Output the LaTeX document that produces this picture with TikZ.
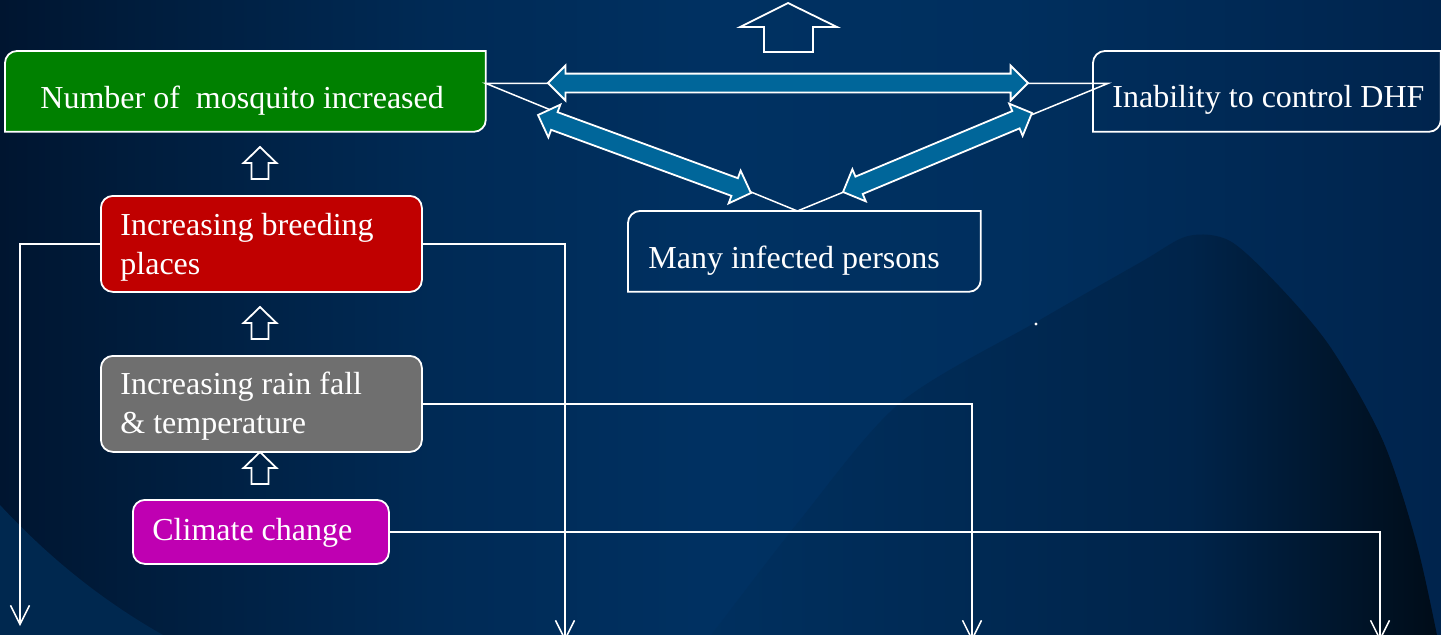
\documentclass[tikz,border=0pt]{standalone}
\usepackage{fontspec}
\setmainfont{Liberation Serif}
\usetikzlibrary{arrows.meta,shapes.arrows}

% palette
\definecolor{bgA}{HTML}{001530}
\definecolor{bgB}{HTML}{001D3D}
\definecolor{bgC}{HTML}{002A55}
\definecolor{bgD}{HTML}{003162}
\definecolor{bgE}{HTML}{002F5E}
\definecolor{bgF}{HTML}{00244D}
\definecolor{hillA}{HTML}{00305F}
\definecolor{hillB}{HTML}{00244A}
\definecolor{hillC}{HTML}{000C18}
\definecolor{lowlight}{HTML}{00284F}
\definecolor{arrowblue}{HTML}{00669A}
\definecolor{mosqgreen}{HTML}{008000}
\definecolor{breedred}{HTML}{C00000}
\definecolor{raingray}{HTML}{6F6F6F}
\definecolor{climmag}{HTML}{BF00B2}

\pgfdeclarehorizontalshading{backdrop}{100bp}{%
  color(0bp)=(bgA); color(25bp)=(bgA); color(30bp)=(bgB); color(40bp)=(bgC);
  color(50bp)=(bgD); color(60bp)=(bgE); color(75bp)=(bgF); color(100bp)=(bgF)}
\pgfdeclarehorizontalshading{hillshade}{100bp}{%
  color(0bp)=(hillA); color(25bp)=(hillA); color(58bp)=(hillB); color(75bp)=(hillC); color(100bp)=(hillC)}

% frame with rounded top-left and bottom-right corners
\newcommand\diagframe[3]{%
  \path[frame,fill=#3] (#1.south west) -- ([yshift=-#2]#1.north west)
    arc[start angle=180, end angle=90, radius=#2]
    -- (#1.north east) -- ([yshift=#2]#1.south east)
    arc[start angle=0, end angle=-90, radius=#2]
    -- cycle;}

\tikzset{
  boxbase/.style={inner sep=0pt, anchor=north west},
  frame/.style={draw=white, line width=0.9pt},
  rbox/.style={boxbase, frame, rounded corners=6pt},
  txt/.style={text=white, inner sep=0pt, anchor=base west, align=left},
  wire/.style={draw=white, line width=0.75pt},
  downarr/.style={wire, -{Straight Barb[length=9.5pt,width=9.5pt]}},
  hollow/.style={draw=white, line width=0.9pt, line join=miter},
  dblarr/.style={double arrow, draw=white, line width=0.9pt, fill=arrowblue,
    double arrow head extend=4pt, text height=4.25pt, text depth=4.25pt,
    inner sep=0pt, sloped},
  uparrow/.pic={\draw[hollow] (0,-16) -- (16.5,0) -- (8.5,0) -- (8.5,16)
    -- (-8.5,16) -- (-8.5,0) -- (-16.5,0) -- cycle;}
}

\begin{document}
\begin{tikzpicture}[x=0.5pt,y=-0.5pt,font=\fontsize{16}{19.2}\selectfont]
\useasboundingbox (0,0) rectangle (1441,634);
\begin{scope}
\clip (0,0) rectangle (1441,634);

% backdrop
\shade[shading=backdrop] (0,0) rectangle (1441,634);
\shade[shading=hillshade]
  plot[smooth] coordinates {(700,650) (800,520) (900,403) (1038,321) (1141,262)
    (1188,236) (1230,241) (1279,286) (1331,348) (1383,441) (1417,545) (1440,650)} -- cycle;
\fill[lowlight] (0,505) .. controls (40,548) and (95,598) .. (172,640) -- (0,640) -- cycle;
\fill[white] (1036,324) circle (0.8pt);

% boxes
\node[boxbase, minimum width=240pt, minimum height=40pt] (mosq) at (5,51) {};
\diagframe{mosq}{6pt}{mosqgreen}
\node[boxbase, minimum width=173.5pt, minimum height=40pt] (dhf) at (1093,51) {};
\diagframe{dhf}{6pt}{none}
\node[boxbase, minimum width=176pt, minimum height=40pt] (many) at (628,211) {};
\diagframe{many}{6pt}{none}
\node[rbox, fill=breedred, minimum width=160.5pt, minimum height=48pt] (breed) at (100,195) {};
\node[rbox, fill=raingray, minimum width=160.5pt, minimum height=48pt] (rain) at (100,355) {};
\node[rbox, fill=climmag, minimum width=128pt, minimum height=32pt] (climate) at (132,499) {};

% texts (multi-line nodes sit on the baseline of their last line)
\node[txt] (mosqtxt) at (40,108) {Number of\ \ mosquito increased};
\node[txt] (dhftxt) at (1112,107) {Inability to control DHF};
\node[txt] (manytxt) at (648,268) {Many infected persons};
\node[txt] (breedtxt) at (120,274) {Increasing breeding\\places};
\node[txt] (raintxt) at (120,433) {Increasing rain fall\\\& temperature};
\node[txt] (climtxt) at (152,540) {Climate change};

% thin triangle between the three top boxes
\coordinate (gR) at ([yshift=4pt]mosq.east);
\coordinate (dL) at ([xshift=7.5pt,yshift=4pt]dhf.west);
\coordinate (mT) at ([xshift=-3.5pt]many.north);
\draw[wire] (gR) -- (dL) -- (mT) -- cycle;

% broad two-headed arrows
\coordinate (h1) at (548,83);   \coordinate (h2) at (1028,83);
\coordinate (l1) at (538,115);  \coordinate (l2) at (751,193);
\coordinate (r1) at (843,192);  \coordinate (r2) at (1032,113);
\path (h1) -- (h2) node[dblarr, midway, minimum height=240pt] (hx) {};
\path (l1) -- (l2) node[dblarr, midway, minimum height=113.4pt] (lx) {};
\path (r1) -- (r2) node[dblarr, midway, minimum height=102.4pt] (rx) {};

% hollow up arrows
\draw[hollow] (788,3) -- (837,27) -- (813,27) -- (813,52) -- (764,52) -- (764,27) -- (740,27) -- cycle;
\pic at (260,163) {uparrow};
\pic at (260,323) {uparrow};
\pic at (260,468) {uparrow};

% outgoing connectors
\coordinate (e0) at (20,626);
\coordinate (e1) at (565,641);
\coordinate (e2) at (972,641);
\coordinate (e3) at (1380,641);
\draw[downarr] (breed.west) -| (e0);
\draw[downarr] (breed.east) -| (e1);
\draw[downarr] (rain.east) -| (e2);
\draw[downarr] (climate.east) -| (e3);
\end{scope}
\end{tikzpicture}
\end{document}
